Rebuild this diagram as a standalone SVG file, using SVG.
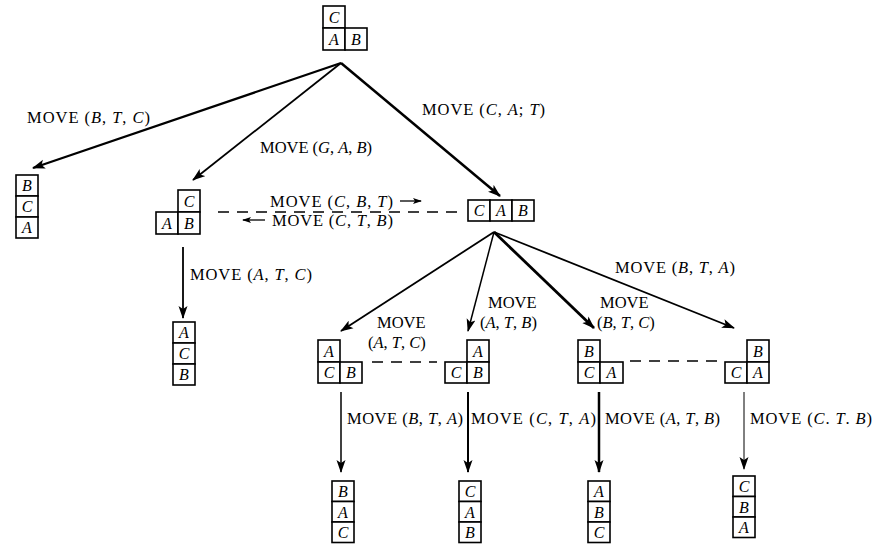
<svg xmlns="http://www.w3.org/2000/svg" width="877" height="548" viewBox="0 0 877 548">
<defs>
<marker id="ah" markerUnits="userSpaceOnUse" markerWidth="14" markerHeight="10" viewBox="0 0 14 10" refX="12" refY="5" orient="auto">
<path d="M0,0.5 L13,5 L0,9.5 L3,5 z" fill="#000"/>
</marker>
<marker id="sa" markerUnits="userSpaceOnUse" markerWidth="9" markerHeight="7" viewBox="0 0 9 7" refX="8" refY="3.5" orient="auto">
<path d="M0,0.5 L9,3.5 L0,6.5 L2,3.5 z" fill="#000"/>
</marker>
<style>
.box{fill:#fff;stroke:#000;stroke-width:1.6}
.bl{font-family:"Liberation Serif","Times New Roman",serif;font-style:italic;font-size:16px;text-anchor:middle;fill:#000}
.lbl{font-family:"Liberation Serif","Times New Roman",serif;font-size:16.5px;fill:#000}
.i{font-style:italic}
.e{stroke:#000;fill:none;marker-end:url(#ah)}
.dash{stroke:#000;stroke-width:1.5;stroke-dasharray:11 8;fill:none}
</style>
</defs>
<rect width="877" height="548" fill="#fff"/>

<g id="connectors">
<line class="e" x1="341" y1="63" x2="33" y2="168" stroke-width="2.2"/>
<line class="e" x1="341" y1="63" x2="193" y2="180" stroke-width="1.8"/>
<line class="e" x1="341" y1="63" x2="500" y2="196" stroke-width="2.5"/>
<line class="dash" x1="218" y1="212" x2="464" y2="212"/>
<line class="e" x1="183" y1="247" x2="183" y2="318" stroke-width="1.8"/>
<line class="e" x1="494" y1="232" x2="341" y2="331" stroke-width="1.8"/>
<line class="e" x1="494" y1="232" x2="468" y2="331" stroke-width="1.5"/>
<line class="e" x1="494" y1="232" x2="594" y2="328" stroke-width="2.8"/>
<line class="e" x1="494" y1="232" x2="734" y2="328" stroke-width="1.8"/>
<line class="dash" x1="372" y1="362" x2="437" y2="362"/>
<line class="dash" x1="630" y1="361" x2="722" y2="361"/>
<line class="e" x1="341" y1="392" x2="341" y2="472" stroke-width="1.5"/>
<line class="e" x1="468" y1="392" x2="468" y2="472" stroke-width="2"/>
<line class="e" x1="599" y1="392" x2="599" y2="472" stroke-width="2.5"/>
<line class="e" x1="744" y1="392" x2="744" y2="469" stroke-width="1"/>
</g>

<g id="labels">
<text class="lbl" x="27" y="123" textLength="123">MOVE (<tspan class="i">B</tspan>, <tspan class="i">T</tspan>, <tspan class="i">C</tspan>)</text>
<text class="lbl" x="260" y="153" textLength="112">MOVE (<tspan class="i">G</tspan>, <tspan class="i">A</tspan>, <tspan class="i">B</tspan>)</text>
<text class="lbl" x="422" y="115" textLength="123">MOVE (<tspan class="i">C</tspan>, <tspan class="i">A</tspan>; <tspan class="i">T</tspan>)</text>
<text class="lbl" x="270" y="207" textLength="123">MOVE (<tspan class="i">C</tspan>, <tspan class="i">B</tspan>, <tspan class="i">T</tspan>)</text>
<line x1="400" y1="201" x2="421" y2="201" stroke="#000" stroke-width="1.3" marker-end="url(#sa)"/>
<text class="lbl" x="272" y="226" textLength="121">MOVE (<tspan class="i">C</tspan>, <tspan class="i">T</tspan>, <tspan class="i">B</tspan>)</text>
<line x1="265" y1="220" x2="243" y2="220" stroke="#000" stroke-width="1.3" marker-end="url(#sa)"/>
<text class="lbl" x="190" y="280" textLength="122">MOVE (<tspan class="i">A</tspan>, <tspan class="i">T</tspan>, <tspan class="i">C</tspan>)</text>
<text class="lbl" x="377" y="328">MOVE</text>
<text class="lbl" x="368" y="348">(<tspan class="i">A</tspan>, <tspan class="i">T</tspan>, <tspan class="i">C</tspan>)</text>
<text class="lbl" x="488" y="308">MOVE</text>
<text class="lbl" x="480" y="328">(<tspan class="i">A</tspan>, <tspan class="i">T</tspan>, <tspan class="i">B</tspan>)</text>
<text class="lbl" x="600" y="308">MOVE</text>
<text class="lbl" x="597" y="328">(<tspan class="i">B</tspan>, <tspan class="i">T</tspan>, <tspan class="i">C</tspan>)</text>
<text class="lbl" x="615" y="273" textLength="120">MOVE (<tspan class="i">B</tspan>, <tspan class="i">T</tspan>, <tspan class="i">A</tspan>)</text>
<text class="lbl" x="347" y="424" textLength="116">MOVE (<tspan class="i">B</tspan>, <tspan class="i">T</tspan>, <tspan class="i">A</tspan>)</text>
<text class="lbl" x="471" y="424" textLength="125">MOVE (<tspan class="i">C</tspan>, <tspan class="i">T</tspan>, <tspan class="i">A</tspan>)</text>
<text class="lbl" x="605" y="424" textLength="115">MOVE (<tspan class="i">A</tspan>, <tspan class="i">T</tspan>, <tspan class="i">B</tspan>)</text>
<text class="lbl" x="750" y="424" textLength="122">MOVE (<tspan class="i">C</tspan>. <tspan class="i">T</tspan>. <tspan class="i">B</tspan>)</text>
</g>

<g id="n-top">
<rect class="box" x="323" y="6" width="22" height="22"/><text class="bl" x="334" y="22.5">C</text>
<rect class="box" x="323" y="28" width="22" height="22"/><text class="bl" x="334" y="44.5">A</text>
<rect class="box" x="345" y="28" width="22" height="22"/><text class="bl" x="356" y="44.5">B</text>
</g>
<g id="n-bca">
<rect class="box" x="16" y="175" width="22" height="21"/><text class="bl" x="27" y="191">B</text>
<rect class="box" x="16" y="196" width="22" height="21"/><text class="bl" x="27" y="212">C</text>
<rect class="box" x="16" y="217" width="22" height="21"/><text class="bl" x="27" y="233">A</text>
</g>
<g id="n-c-ab">
<rect class="box" x="178" y="190" width="22" height="22"/><text class="bl" x="189" y="206.5">C</text>
<rect class="box" x="156" y="212" width="22" height="22"/><text class="bl" x="167" y="228.5">A</text>
<rect class="box" x="178" y="212" width="22" height="22"/><text class="bl" x="189" y="228.5">B</text>
</g>
<g id="n-cab">
<rect class="box" x="468" y="200" width="22" height="21"/><text class="bl" x="479" y="216">C</text>
<rect class="box" x="490" y="200" width="22" height="21"/><text class="bl" x="501" y="216">A</text>
<rect class="box" x="512" y="200" width="22" height="21"/><text class="bl" x="523" y="216">B</text>
</g>
<g id="n-acb">
<rect class="box" x="173" y="322" width="22" height="21"/><text class="bl" x="184" y="338">A</text>
<rect class="box" x="173" y="343" width="22" height="21"/><text class="bl" x="184" y="359">C</text>
<rect class="box" x="173" y="364" width="22" height="21"/><text class="bl" x="184" y="380">B</text>
</g>
<g id="n1">
<rect class="box" x="318" y="340" width="22" height="22"/><text class="bl" x="329" y="356.5">A</text>
<rect class="box" x="318" y="362" width="22" height="21"/><text class="bl" x="329" y="378">C</text>
<rect class="box" x="340" y="362" width="22" height="21"/><text class="bl" x="351" y="378">B</text>
</g>
<g id="n2">
<rect class="box" x="467" y="340" width="22" height="22"/><text class="bl" x="478" y="356.5">A</text>
<rect class="box" x="445" y="362" width="22" height="21"/><text class="bl" x="456" y="378">C</text>
<rect class="box" x="467" y="362" width="22" height="21"/><text class="bl" x="478" y="378">B</text>
</g>
<g id="n3">
<rect class="box" x="578" y="340" width="22" height="22"/><text class="bl" x="589" y="356.5">B</text>
<rect class="box" x="578" y="362" width="22" height="21"/><text class="bl" x="589" y="378">C</text>
<rect class="box" x="600" y="362" width="23" height="21"/><text class="bl" x="611.5" y="378">A</text>
</g>
<g id="n4">
<rect class="box" x="747" y="340" width="22" height="22"/><text class="bl" x="758" y="356.5">B</text>
<rect class="box" x="725" y="362" width="22" height="21"/><text class="bl" x="736" y="378">C</text>
<rect class="box" x="747" y="362" width="22" height="21"/><text class="bl" x="758" y="378">A</text>
</g>
<g id="s1">
<rect class="box" x="332" y="481" width="22" height="20.5"/><text class="bl" x="343" y="497">B</text>
<rect class="box" x="332" y="501.5" width="22" height="20.5"/><text class="bl" x="343" y="517.5">A</text>
<rect class="box" x="332" y="522" width="22" height="20.5"/><text class="bl" x="343" y="538">C</text>
</g>
<g id="s2">
<rect class="box" x="459" y="481" width="22" height="20.5"/><text class="bl" x="470" y="497">C</text>
<rect class="box" x="459" y="501.5" width="22" height="20.5"/><text class="bl" x="470" y="517.5">A</text>
<rect class="box" x="459" y="522" width="22" height="20.5"/><text class="bl" x="470" y="538">B</text>
</g>
<g id="s3">
<rect class="box" x="588" y="481" width="22" height="20.5"/><text class="bl" x="599" y="497">A</text>
<rect class="box" x="588" y="501.5" width="22" height="20.5"/><text class="bl" x="599" y="517.5">B</text>
<rect class="box" x="588" y="522" width="22" height="20.5"/><text class="bl" x="599" y="538">C</text>
</g>
<g id="s4">
<rect class="box" x="733" y="476" width="22" height="20.5"/><text class="bl" x="744" y="492">C</text>
<rect class="box" x="733" y="496.5" width="22" height="20.5"/><text class="bl" x="744" y="512.5">B</text>
<rect class="box" x="733" y="517" width="22" height="20.5"/><text class="bl" x="744" y="533">A</text>
</g>
</svg>
